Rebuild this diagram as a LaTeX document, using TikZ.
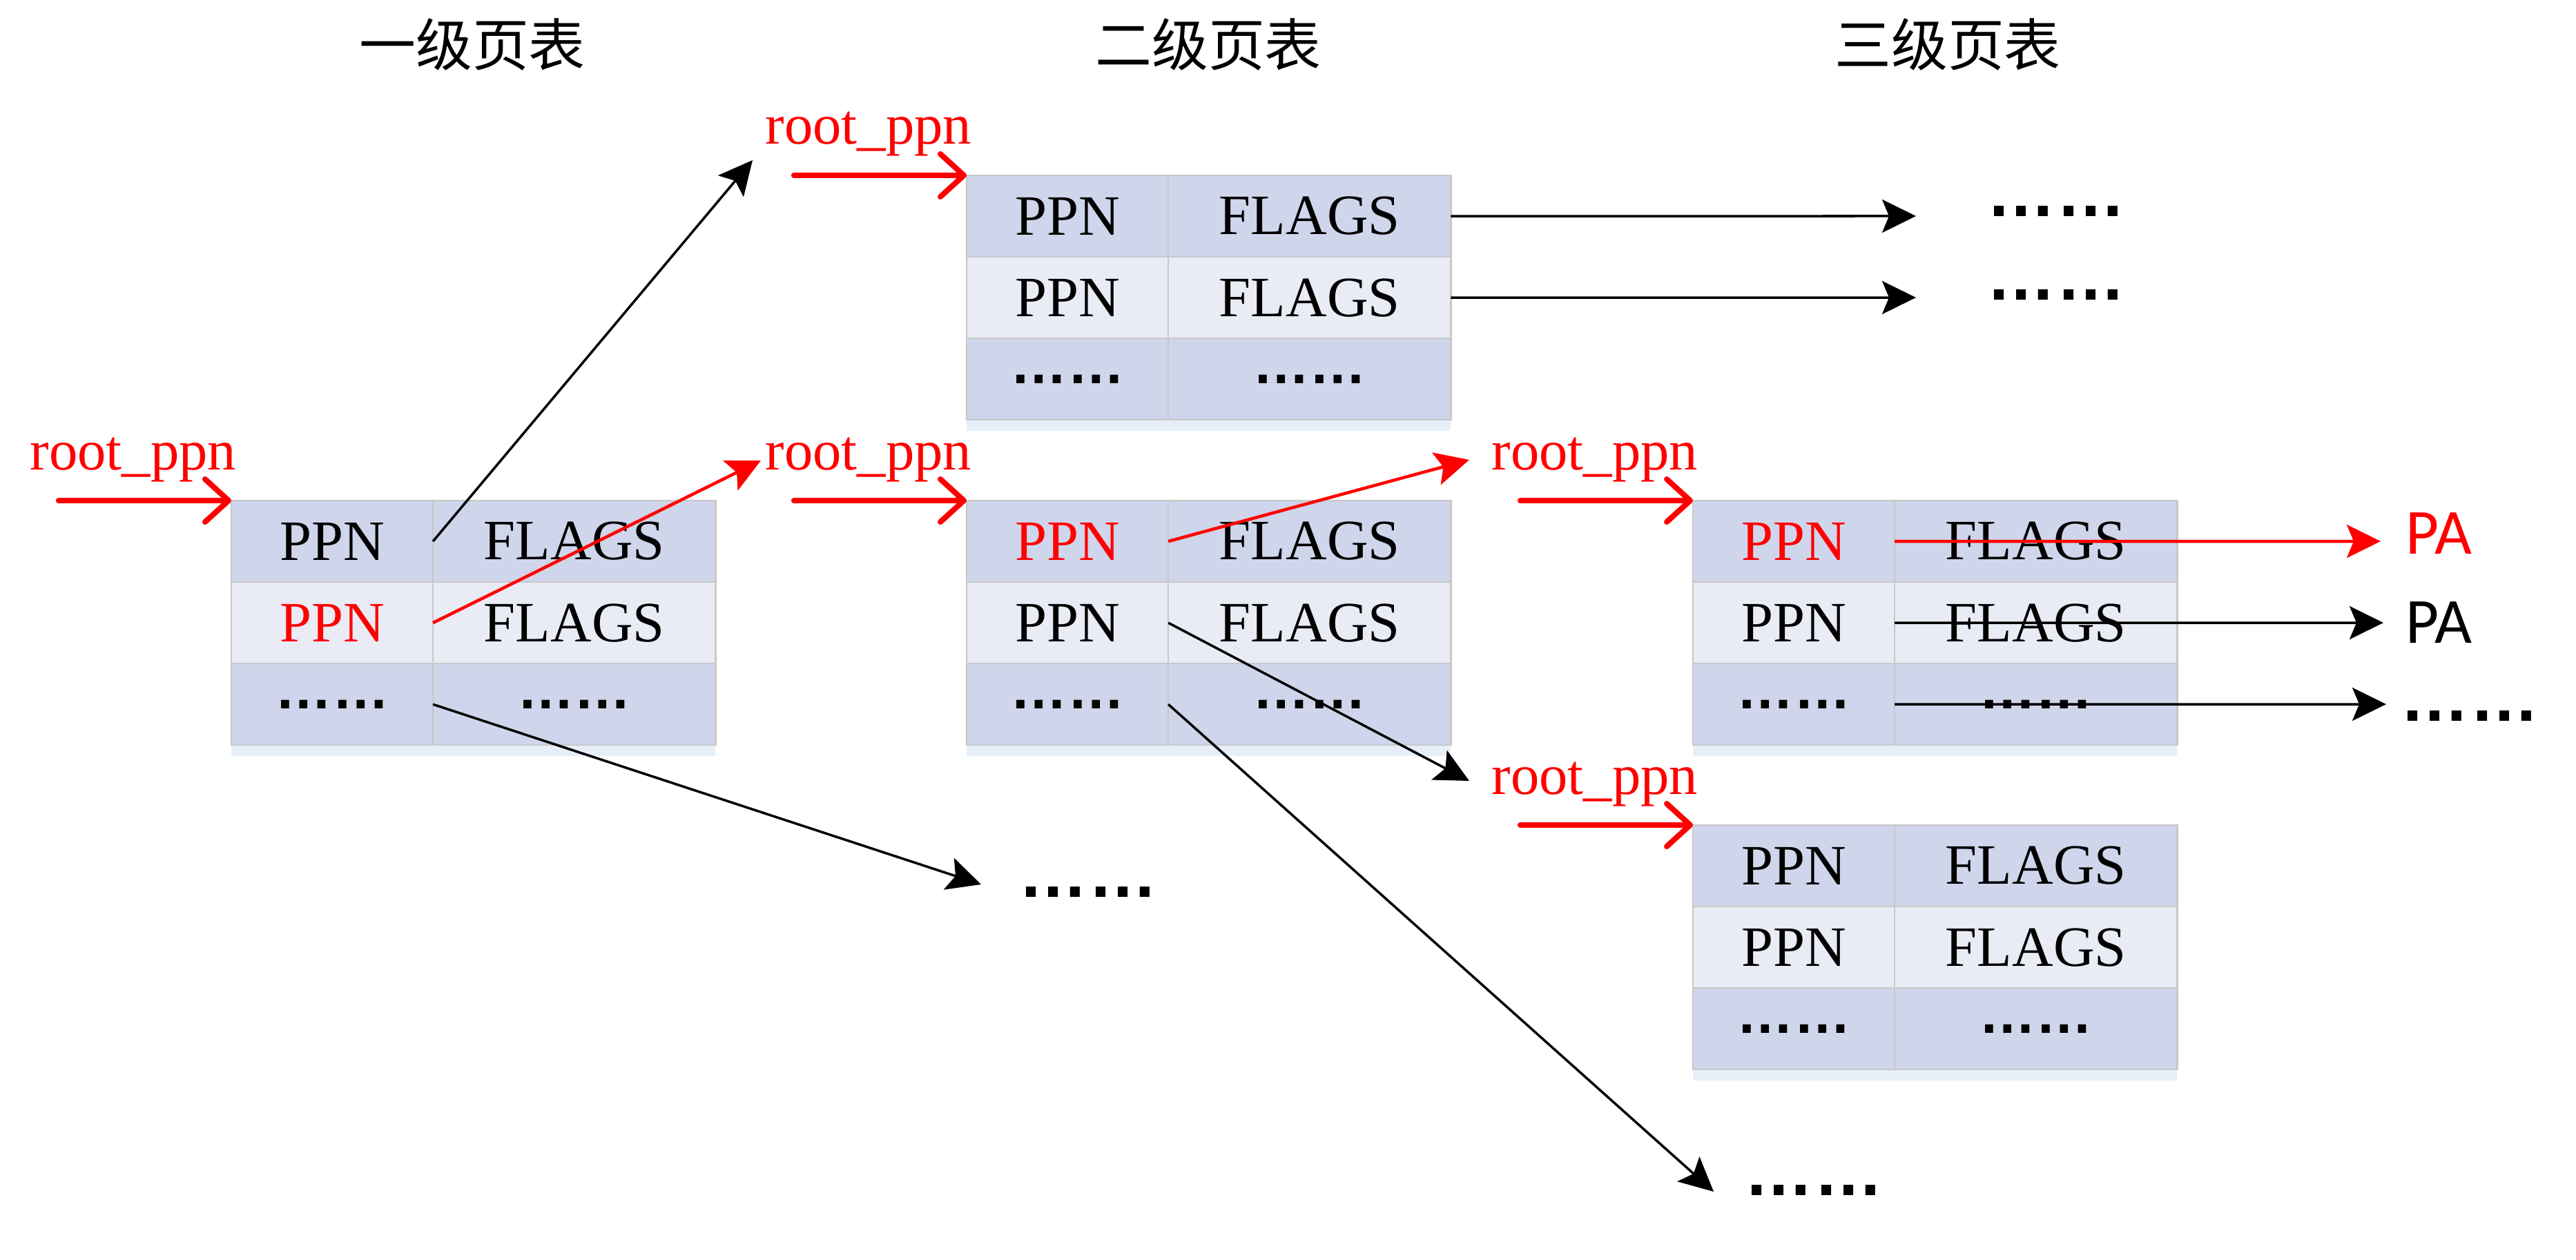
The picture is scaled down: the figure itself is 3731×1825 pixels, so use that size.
\documentclass[tikz,border=0pt]{standalone}
\usepackage{fontspec}
\setmainfont{Liberation Serif}
\newfontfamily\cjk{Noto Sans CJK SC}
\newfontfamily\pafont{Carlito}
\newfontfamily\dotfont{Liberation Sans Bold}
\usepackage{xcolor}
\usepackage{tikz}
\usetikzlibrary{arrows.meta,positioning,shadows}

\definecolor{rowdark}{HTML}{CFD5EA}
\definecolor{rowlight}{HTML}{E9EBF5}
\definecolor{cellline}{HTML}{C8C8C8}
\definecolor{glow}{HTML}{E6EEF8}

\begin{document}
\begin{tikzpicture}[
  x=0.01cm, y=-0.01cm,
  font=\fontsize{23.5pt}{28pt}\selectfont,
  cell/.style={draw=cellline, line width=0.025cm, inner sep=0pt, outer sep=0pt, minimum height=1.18cm, text=black},
  ppn/.style={cell, minimum width=2.92cm},
  flg/.style={cell, minimum width=4.09cm},
  dark/.style={fill=rowdark},
  light/.style={fill=rowlight},
  low/.style={drop shadow={shadow xshift=0cm, shadow yshift=-0.16cm, fill=glow, opacity=1}},
  dots/.style={font=\dotfont\fontsize{23.5pt}{28pt}\selectfont},
  more/.style={font=\dotfont\fontsize{28.5pt}{32pt}\selectfont},
  head/.style={font=\cjk\fontsize{23.3pt}{28pt}\selectfont},
  lbl/.style={text=red, anchor=base west, inner sep=0pt},
  pa/.style={font=\pafont\fontsize{26.5pt}{30pt}\selectfont, anchor=base west, inner sep=0pt},
  rootarr/.style={red, line width=0.08cm, line cap=round, -{Straight Barb[length=0.34cm, width=0.62cm, round]}},
  arr/.style={line width=0.035cm, -{Stealth[length=0.49cm, width=0.48cm, inset=0.1cm]}},
  redarr/.style={arr, red, line width=0.045cm}
]
\useasboundingbox (0,0) rectangle (3731,1825);

% headings
\node[head] (h1) at (684,64) {一级页表};
\node[head] (h2) at (1750,64) {二级页表};
\node[head] (h3) at (2821,64) {三级页表};

% level 1
\node[ppn, dark, anchor=north west] (t1a) at (335,725) {PPN};
\node[flg, dark, right=0pt of t1a] (t1b) {FLAGS};
\node[ppn, light, text=red, below=0pt of t1a] (t1c) {PPN};
\node[flg, light, right=0pt of t1c] (t1d) {FLAGS};
\node[ppn, dark, low, dots, below=0pt of t1c] (t1e) {……};
\node[flg, dark, low, dots, right=0pt of t1e] (t1f) {……};

% level 2, upper
\node[ppn, dark, anchor=north west] (t2a) at (1400,254) {PPN};
\node[flg, dark, right=0pt of t2a] (t2b) {FLAGS};
\node[ppn, light, below=0pt of t2a] (t2c) {PPN};
\node[flg, light, right=0pt of t2c] (t2d) {FLAGS};
\node[ppn, dark, low, dots, below=0pt of t2c] (t2e) {……};
\node[flg, dark, low, dots, right=0pt of t2e] (t2f) {……};

% level 2, lower
\node[ppn, dark, text=red, anchor=north west] (t3a) at (1400,725) {PPN};
\node[flg, dark, right=0pt of t3a] (t3b) {FLAGS};
\node[ppn, light, below=0pt of t3a] (t3c) {PPN};
\node[flg, light, right=0pt of t3c] (t3d) {FLAGS};
\node[ppn, dark, low, dots, below=0pt of t3c] (t3e) {……};
\node[flg, dark, low, dots, right=0pt of t3e] (t3f) {……};

% level 3, upper
\node[ppn, dark, text=red, anchor=north west] (t4a) at (2452,725) {PPN};
\node[flg, dark, right=0pt of t4a] (t4b) {FLAGS};
\node[ppn, light, below=0pt of t4a] (t4c) {PPN};
\node[flg, light, right=0pt of t4c] (t4d) {FLAGS};
\node[ppn, dark, low, dots, below=0pt of t4c] (t4e) {……};
\node[flg, dark, low, dots, right=0pt of t4e] (t4f) {……};

% level 3, lower
\node[ppn, dark, anchor=north west] (t5a) at (2452,1195) {PPN};
\node[flg, dark, right=0pt of t5a] (t5b) {FLAGS};
\node[ppn, light, below=0pt of t5a] (t5c) {PPN};
\node[flg, light, right=0pt of t5c] (t5d) {FLAGS};
\node[ppn, dark, low, dots, below=0pt of t5c] (t5e) {……};
\node[flg, dark, low, dots, right=0pt of t5e] (t5f) {……};

% root_ppn inputs
\coordinate[left=2.5cm of t1a.north west] (in1);
\coordinate[left=2.5cm of t2a.north west] (in2);
\coordinate[left=2.5cm of t3a.north west] (in3);
\coordinate[left=2.5cm of t4a.north west] (in4);
\coordinate[left=2.5cm of t5a.north west] (in5);
\node[lbl] (r1) at ([shift={(-42,-45)}]in1) {root\_ppn};
\node[lbl] (r2) at ([shift={(-42,-45)}]in2) {root\_ppn};
\node[lbl] (r3) at ([shift={(-42,-45)}]in3) {root\_ppn};
\node[lbl] (r4) at ([shift={(-42,-45)}]in4) {root\_ppn};
\node[lbl] (r5) at ([shift={(-42,-45)}]in5) {root\_ppn};
\draw[rootarr] (in1) -- (t1a.north west);
\draw[rootarr] (in2) -- (t2a.north west);
\draw[rootarr] (in3) -- (t3a.north west);
\draw[rootarr] (in4) -- (t4a.north west);
\draw[rootarr] (in5) -- (t5a.north west);

% outputs
\node[more] (d0) at (1576,1292) {……};
\node[more] (d1) at (2978,306) {……};
\node[more] (d2) at (2978,427) {……};
\node[more] (d3) at (3577,1037) {……};
\node[more] (d4) at (2627,1724) {……};
\node[pa, text=red] (pa1) at (3484,802) {PA};
\node[pa] (pa2) at (3484,931) {PA};

\coordinate (e1) at (1090,232);
\coordinate (e2) at (1102,667);
\coordinate (e3) at (1421,1281);
\coordinate (e4) at (2775,313);
\coordinate (e5) at (2775,431);
\coordinate (e6) at (2128,666);
\coordinate (e7) at (2128,1131);
\coordinate (e8) at (2482,1726);
\coordinate (e9) at (3448,784);
\coordinate (e10) at (3452,902);
\coordinate (e11) at (3456,1020);

\draw[arr] (t1a.east) -- (e1);
\draw[redarr] (t1c.east) -- (e2);
\draw[arr] (t1e.east) -- (e3);
\draw[arr] (t2b.east) -- (e4);
\draw[arr] (t2d.east) -- (e5);
\draw[redarr] (t3a.east) -- (e6);
\draw[arr] (t3c.east) -- (e7);
\draw[arr] (t3e.east) -- (e8);
\draw[redarr] (t4a.east) -- (e9);
\draw[arr] (t4c.east) -- (e10);
\draw[arr] (t4e.east) -- (e11);
\end{tikzpicture}
\end{document}
